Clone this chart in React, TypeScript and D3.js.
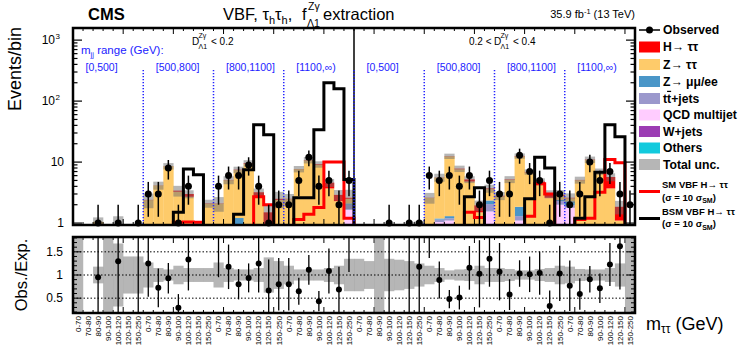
import React from "react";
import * as d3 from "d3";

// ---------------- data ----------------
const mttBins = ["0-70", "70-80", "80-90", "90-100", "100-120", "120-150", "150-250"];
const mjjRanges = ["[0,500]", "[500,800]", "[800,1100]", "[1100,\u221e)", "[0,500]", "[500,800]", "[800,1100]", "[1100,\u221e)"];

const observed = [
  0, 0, 1, 0, 1, 0, 1,
  3, 3, 8, 1, 4, 0, 0,
  4, 6, 6, 9, 4, 1, 2,
  2, 5, 12, 4, 5, 2, 5,
  0, 0, 0, 1, 0, 1, 1,
  6, 5, 6, 4, 6, 2, 5,
  3, 3, 13, 7, 5, 1, 3,
  2, 3, 10, 5, 7, 3, 2,
];

const others = [
  0.02, 0, 0.03, 0.02, 0.03, 0.03, 0.02,
  0.05, 0.05, 0.06, 0.05, 0.05, 0.04, 0.05,
  0.05, 0.05, 0.06, 0.06, 0.05, 0.04, 0.05,
  0.05, 0.05, 0.06, 0.06, 0.05, 0.05, 0.08,
  0.02, 0.02, 0.02, 0.02, 0.02, 0.02, 0.03,
  0.05, 0.06, 0.07, 0.06, 0.05, 0.05, 0.08,
  0.05, 0.06, 0.1, 0.06, 0.05, 0.05, 0.1,
  0.08, 0.05, 0.06, 0.05, 0.05, 0.05, 0.02,
];
const wjets = [
  0.03, 0, 0.04, 0.02, 0.04, 0.03, 0.02,
  0.05, 0.05, 0.07, 0.05, 0.05, 0.03, 0.05,
  0.05, 0.06, 0.05, 0.07, 0.05, 0.04, 0.05,
  0.05, 0.06, 0.07, 0.06, 0.05, 0.04, 0.07,
  0.02, 0.02, 0.02, 0.03, 0.02, 0.02, 0.03,
  0.05, 0.06, 0.08, 0.06, 0.05, 0.05, 0.07,
  0.05, 0.06, 0.05, 0.06, 0.05, 0.05, 0.1,
  0.1, 0.05, 0.06, 0.05, 0.05, 0.05, 0.02,
];
const qcd = [
  0.1, 0, 0.1, 0.08, 0.2, 0.15, 0.12,
  0.1, 0.1, 0.15, 0.12, 0.1, 0.2, 0.1,
  0.1, 0.15, 0.3, 0.2, 0.1, 0.1, 0.3,
  0.15, 0.15, 0.2, 0.2, 0.15, 0.15, 1.5,
  0.15, 0.12, 0.1, 0.12, 0.15, 0.12, 0.25,
  0.2, 0.92, 0.95, 0.3, 0.2, 0.25, 1.4,
  0.3, 0.2, 0.95, 0.2, 0.2, 0.15, 1.8,
  1.6, 0.2, 0.2, 0.2, 0.15, 0.15, 0.06,
];
const ttbar = [
  0.05, 0, 0.08, 0.05, 0.1, 0.1, 0.08,
  0.08, 0.1, 0.1, 0.1, 0.1, 0.05, 0.1,
  0.1, 0.1, 0.4, 0.15, 0.1, 0.08, 0.2,
  0.1, 0.1, 0.15, 0.15, 0.1, 0.1, 0.35,
  0.05, 0.05, 0.04, 0.05, 0.05, 0.05, 0.1,
  0.1, 0.1, 0.1, 0.1, 0.1, 0.1, 0.5,
  0.1, 0.1, 0.2, 0.1, 0.1, 0.1, 0.3,
  0.2, 0.1, 0.1, 0.1, 0.1, 0.1, 0.04,
];
const zll = [
  0.05, 0, 0.05, 0.03, 0.05, 0.05, 0.05,
  0.05, 0.05, 0.08, 0.05, 0.05, 0.05, 0.05,
  0.05, 0.05, 0.4, 0.1, 0.05, 0.05, 0.2,
  0.05, 0.1, 0.1, 0.1, 0.05, 0.05, 0.1,
  0.03, 0.03, 0.02, 0.03, 0.03, 0.03, 0.05,
  0.05, 0.05, 0.1, 0.1, 0.05, 0.1, 0.3,
  0.05, 0.1, 0.55, 0.1, 0.05, 0.05, 0.1,
  0.3, 0.05, 0.05, 0.05, 0.05, 0.05, 0.03,
];
const ztt = [
  0.25, 0, 0.75, 0.1, 0.35, 0.24, 0.16,
  2.05, 3.78, 8.1, 2.9, 2.35, 0.5, 1.72,
  1.73, 4.64, 6.2, 8.8, 2.25, 0.5, 1.6,
  2.07, 7.2, 10.1, 8.4, 3.3, 1.9, 0.4,
  0.23, 0.16, 0.1, 0.15, 0.23, 0.16, 0.37,
  2.13, 4.37, 11.1, 7.0, 4.35, 0.95, 1.25,
  2.2, 4.6, 10.6, 6.28, 3.75, 2.2, 0.4,
  0.27, 4.6, 10.4, 6.25, 3.3, 0.7, 0.13,
];
const htt = [
  0, 0, 0, 0, 0, 0, 0,
  0.02, 0.02, 0.04, 0.13, 0.3, 0.03, 0.03,
  0.02, 0.05, 0.09, 0.22, 0.6, 0.69, 0.1,
  0.03, 0.04, 0.12, 0.23, 0.9, 0.61, 0.1,
  0, 0, 0, 0, 0, 0, 0.02,
  0.02, 0.04, 0.1, 0.18, 0.4, 0.45, 0.1,
  0.05, 0.08, 0.15, 0.1, 0.6, 0.4, 0.1,
  0.05, 0.05, 0.13, 0.3, 2.0, 0.75, 0,
];
// relative total uncertainty
const totalUnc = [
  0.9, 0, 0.18, 0.9, 0.68, 0.4, 0.4,
  0.27, 0.15, 0.12, 0.2, 0.15, 0.15, 0.15,
  0.27, 0.15, 0.12, 0.12, 0.15, 0.38, 0.3,
  0.2, 0.12, 0.12, 0.12, 0.15, 0.2, 0.35,
  0.35, 0.3, 0.9, 0.35, 0.33, 0.3, 0.25,
  0.2, 0.15, 0.1, 0.12, 0.13, 0.2, 0.15,
  0.15, 0.13, 0.1, 0.1, 0.13, 0.15, 0.2,
  0.18, 0.13, 0.12, 0.12, 0.15, 0.25, 0.9,
];
const smVBF = [
  0, 0, 0, 0, 0, 0, 0,
  0, 0, 0, 1.03, 1.04, 1.03, 0.5,
  0, 0, 0.3, 0.9, 2.7, 2.0, 0.5,
  0, 1.15, 1.4, 1.8, 10, 10, 1.2,
  0, 0, 0, 0, 0, 0, 0,
  0, 0, 0, 0.9, 1.5, 1.24, 0.3,
  0, 0, 0.5, 1.3, 4.4, 3.0, 0.5,
  0, 1.15, 1.2, 3.2, 11, 9.8, 0.4,
];
const bsmVBF = [
  0, 0, 0, 0, 0, 0, 0,
  0, 0, 0, 1.5, 7.7, 6.2, 0.5,
  0, 0, 1.4, 7.5, 41, 28, 0.5,
  0.8, 2.6, 2.6, 34, 200, 160, 5.2,
  0, 0, 0, 0, 0, 0, 0,
  0, 0, 0, 0, 2.7, 3.8, 0.3,
  0, 0, 0.5, 2.5, 12, 8, 0.5,
  0, 1.2, 2.7, 6.8, 41, 26, 0.5,
];

const stackKeys = ["others", "wjets", "qcd", "ttbar", "zll", "ztt", "htt"];
const stackColors: Record<string, string> = {
  htt: "#ff0000",
  ztt: "#fecb6a",
  zll: "#4a96c8",
  ttbar: "#9b98cc",
  qcd: "#ffccff",
  wjets: "#9c3cb4",
  others: "#12cadd",
};
const legendLabels = ["Observed", "H\u2192 \u03c4\u03c4", "Z\u2192 \u03c4\u03c4", "Z\u2192 \u03bc\u03bc/ee", "tt+jets", "QCD multijet", "W+jets", "Others", "Total unc."];
const legendKeys = ["obs", "htt", "ztt", "zll", "ttbar", "qcd", "wjets", "others", "unc"];

const FONT = "'Liberation Sans', Arial, Helvetica, sans-serif";
const UNC_FILL = "#6e6e6e";
const BLUE = "#2222ff";

export default function App() {
  const W = 747, H = 357;
  const X0 = 73, X1 = 635, TOP = 28, BOT = 225, RTOP = 237, RBOT = 313;
  const NB = observed.length;

  const x = d3.scaleLinear().domain([0, NB]).range([X0, X1]);
  const y = d3.scaleLog().domain([0.93, 1580]).range([BOT, TOP]);
  const yc = (v: number) => y(Math.max(v, 0.3));
  const yr = d3.scaleLinear().domain([0.18, 1.82]).range([RBOT, RTOP]);

  const rows = d3.range(NB).map((i) => ({
    others: others[i], wjets: wjets[i], qcd: qcd[i], ttbar: ttbar[i], zll: zll[i], ztt: ztt[i], htt: htt[i],
  }));
  const stacked = d3.stack<any>().keys(stackKeys)(rows);
  const totals = rows.map((r: any) => d3.sum(stackKeys, (k) => r[k]));

  const stepLine = d3
    .line<number>()
    .x((_, i) => x(i))
    .y((v) => yc(v))
    .curve(d3.curveStepAfter);
  const smPath = stepLine([...smVBF, smVBF[NB - 1]]) || "";
  const bsmPath = stepLine([...bsmVBF, bsmVBF[NB - 1]]) || "";

  const logTicks = y.ticks();
  const isMajorLog = (v: number) => Math.abs(Math.log10(v) - Math.round(Math.log10(v))) < 1e-6;
  const rTicks = d3.range(2, 19).map((k) => k / 10);
  const groupEdges = d3.range(1, 8).map((g) => g * 7);
  const binEdges = d3.range(0, NB + 1);

  const cx = (i: number) => x(i + 0.5);

  const legendY = [30, 47, 64.5, 81.5, 98.5, 115, 131.5, 148, 164.5];

  return (
    <svg width={W} height={H} style={{ display: "block", fontFamily: FONT, position: "absolute", left: 0, top: 0 }}>
      <defs>
        <clipPath id="mainClip">
          <rect x={X0} y={TOP} width={X1 - X0} height={BOT - TOP} />
        </clipPath>
        <clipPath id="ratioClip">
          <rect x={X0} y={RTOP} width={X1 - X0} height={RBOT - RTOP} />
        </clipPath>
      </defs>
      <rect width={W} height={H} fill="#fff" />

      {/* ---------- main panel ---------- */}
      <g clipPath="url(#mainClip)">
        {stacked.map((s) => (
          <g key={s.key} fill={stackColors[s.key]}>
            {s.map((d, i) =>
              d[1] - d[0] > 0 ? (
                <rect key={i} x={x(i)} width={x(i + 1) - x(i) + 0.3} y={yc(d[1])} height={Math.max(0, yc(d[0]) - yc(d[1]))} />
              ) : null
            )}
          </g>
        ))}
        <g fill={UNC_FILL} fillOpacity={0.5}>
          {totals.map((t, i) =>
            t > 0 && totalUnc[i] > 0 ? (
              <rect key={i} x={x(i)} width={x(i + 1) - x(i) + 0.2} y={yc(t * (1 + totalUnc[i]))} height={Math.max(0, yc(t * (1 - totalUnc[i])) - yc(t * (1 + totalUnc[i])))} />
            ) : null
          )}
        </g>
        <path d={smPath} fill="none" stroke="#ff0000" strokeWidth={3} />
        <path d={bsmPath} fill="none" stroke="#000" strokeWidth={3} />
        {/* observed error bars */}
        {observed.map((o, i) =>
          o > 0 ? (
            <line key={i} x1={cx(i)} x2={cx(i)} y1={yc(o + Math.sqrt(o))} y2={yc(o - Math.sqrt(o))} stroke="#000" strokeWidth={1.5} />
          ) : null
        )}
      </g>
      {/* separators */}
      <line x1={x(28)} x2={x(28)} y1={TOP} y2={BOT} stroke="#000" strokeWidth={1.5} />
      {groupEdges.map((g) => (
        <line key={g} x1={x(g)} x2={x(g)} y1={70} y2={BOT} stroke={BLUE} strokeWidth={1.5} strokeDasharray="1.2,1.8" />
      ))}
      {observed.map((o, i) => (o > 0 ? <circle key={i} cx={cx(i)} cy={yc(o)} r={3.5} fill="#000" /> : null))}

      {/* main frame & ticks */}
      <rect x={X0} y={TOP} width={X1 - X0} height={BOT - TOP} fill="none" stroke="#000" strokeWidth={2.5} />
      {logTicks.map((v, i) => {
        const len = isMajorLog(v) ? 9 : 4.5;
        return (
          <g key={i} stroke="#000" strokeWidth={1.2}>
            <line x1={X0} x2={X0 + len} y1={y(v)} y2={y(v)} />
            <line x1={X1} x2={X1 - len} y1={y(v)} y2={y(v)} />
          </g>
        );
      })}
      {binEdges.map((b) => {
        const len = b % 5 === 0 ? 6 : 3;
        return (
          <g key={b} stroke="#000" strokeWidth={1}>
            <line x1={x(b)} x2={x(b)} y1={TOP} y2={TOP + len} />
            <line x1={x(b)} x2={x(b)} y1={BOT} y2={BOT - len} />
            <line x1={x(b)} x2={x(b)} y1={RTOP} y2={RTOP + len} />
            <line x1={x(b)} x2={x(b)} y1={RBOT} y2={RBOT - len} />
          </g>
        );
      })}
      {/* y tick labels */}
      <g fontSize={12} fill="#000">
        <text x={64} y={y(1) + 4.3} textAnchor="end">1</text>
        <text x={64} y={y(10) + 4.3} textAnchor="end">10</text>
        <text x={55} y={y(100) + 4.3} textAnchor="end">10</text>
        <text x={55.5} y={y(100) - 1.5} fontSize={8}>2</text>
        <text x={55} y={y(1000) + 4.3} textAnchor="end">10</text>
        <text x={55.5} y={y(1000) - 1.5} fontSize={8}>3</text>
      </g>
      <text transform={`translate(21,${TOP - 1}) rotate(-90)`} textAnchor="end" fontSize={18}>Events/bin</text>

      {/* in-plot labels */}
      <g fill={BLUE}>
        <text x={81} y={54} fontSize={11.5}>
          m<tspan fontSize={7.5} dy={2.5}>jj</tspan>
          <tspan dy={-2.5}> range (GeV):</tspan>
        </text>
        {mjjRanges.map((r, g) => (
          <text key={g} x={x(g * 7) + 12.5} y={70.5} fontSize={10.5}>{r}</text>
        ))}
      </g>
      <g fontSize={10} fill="#000">
        <text x={192} y={45}>D</text>
        <text x={198.5} y={38} fontSize={7}>Z&#947;</text>
        <text x={198.5} y={49} fontSize={7}>&#923;1</text>
        <text x={211} y={45}>&lt; 0.2</text>
        <text x={469} y={45}>0.2 &lt;</text>
        <text x={494} y={45}>D</text>
        <text x={500.5} y={38} fontSize={7}>Z&#947;</text>
        <text x={500.5} y={49} fontSize={7}>&#923;1</text>
        <text x={513} y={45}>&lt; 0.4</text>
      </g>

      {/* titles */}
      <text x={88} y={20} fontSize={16.5} fontWeight="bold">CMS</text>
      <text x={223} y={20} fontSize={16.5}>
        VBF, &#964;<tspan fontSize={11} dy={4}>h</tspan>
        <tspan dy={-4}>&#964;</tspan>
        <tspan fontSize={11} dy={4}>h</tspan>
        <tspan dy={-4}>,</tspan>
      </text>
      <text x={302} y={20} fontSize={16.5}>f</text>
      <text x={308} y={10} fontSize={10.5}>Z&#947;</text>
      <text x={307} y={27} fontSize={10.5}>&#923;1</text>
      <text x={323} y={20} fontSize={16.5}>extraction</text>
      <text x={635} y={18} fontSize={11} textAnchor="end">
        35.9 fb<tspan fontSize={7.5} dy={-4}>-1</tspan>
        <tspan dy={4}> (13 TeV)</tspan>
      </text>

      {/* legend */}
      <g fontSize={12.2} fontWeight="bold">
        {legendKeys.map((k, i) => {
          const cy = legendY[i];
          return (
            <g key={k}>
              {k === "obs" ? (
                <g>
                  <line x1={639} x2={660} y1={cy} y2={cy} stroke="#000" strokeWidth={1.5} />
                  <circle cx={649.5} cy={cy} r={3.5} fill="#000" />
                </g>
              ) : k === "unc" ? (
                <rect x={639} y={cy - 5.5} width={21} height={11} fill={UNC_FILL} fillOpacity={0.5} />
              ) : (
                <rect x={639} y={cy - 5.5} width={21} height={11} fill={stackColors[k]} />
              )}
              {k === "ttbar" ? (
                <text x={663} y={cy + 4.3}>
                  t<tspan textDecoration="overline">t</tspan>+jets
                </text>
              ) : (
                <text x={663} y={cy + 4.3}>{legendLabels[i]}</text>
              )}
            </g>
          );
        })}
        <line x1={639} x2={660} y1={191.5} y2={191.5} stroke="#ff0000" strokeWidth={3} />
        <text x={662} y={188} fontSize={9.5}>SM VBF H&#8594; &#964;&#964;</text>
        <text x={662} y={200.5} fontSize={9.5}>
          (&#963; = 10 &#963;<tspan fontSize={7} dy={2.5}>SM</tspan>
          <tspan dy={-2.5}>)</tspan>
        </text>
        <line x1={639} x2={660} y1={218.5} y2={218.5} stroke="#000" strokeWidth={3} />
        <text x={662} y={215} fontSize={9.5}>BSM VBF H&#8594; &#964;&#964;</text>
        <text x={662} y={227} fontSize={9.5}>
          (&#963; = 10 &#963;<tspan fontSize={7} dy={2.5}>SM</tspan>
          <tspan dy={-2.5}>)</tspan>
        </text>
      </g>

      {/* ---------- ratio panel ---------- */}
      <g clipPath="url(#ratioClip)">
        <g fill={UNC_FILL} fillOpacity={0.5}>
          {totals.map((t, i) =>
            t > 0 && totalUnc[i] > 0 ? (
              <rect key={i} x={x(i)} width={x(i + 1) - x(i) + 0.2} y={yr(1 + totalUnc[i])} height={yr(1 - totalUnc[i]) - yr(1 + totalUnc[i])} />
            ) : null
          )}
        </g>
        {[0.5, 1, 1.5].map((v) => (
          <line key={v} x1={X0} x2={X1} y1={yr(v)} y2={yr(v)} stroke="#000" strokeWidth={1} strokeDasharray="1.5,2" />
        ))}
        {observed.map((o, i) => {
          if (o <= 0 || totals[i] <= 0) return null;
          const r = o / totals[i];
          const e = Math.sqrt(o) / totals[i];
          return (
            <g key={i}>
              <line x1={cx(i)} x2={cx(i)} y1={yr(Math.min(r + e, 3))} y2={yr(Math.max(r - e, -1))} stroke="#000" strokeWidth={1.3} />
              <circle cx={cx(i)} cy={yr(r)} r={3} fill="#000" />
            </g>
          );
        })}
      </g>
      <rect x={X0} y={RTOP} width={X1 - X0} height={RBOT - RTOP} fill="none" stroke="#000" strokeWidth={2.5} />
      {rTicks.map((v, i) => {
        const major = Math.abs(v * 2 - Math.round(v * 2)) < 1e-6;
        const len = major ? 8 : 4;
        return (
          <g key={i} stroke="#000" strokeWidth={1}>
            <line x1={X0} x2={X0 + len} y1={yr(v)} y2={yr(v)} />
            <line x1={X1} x2={X1 - len} y1={yr(v)} y2={yr(v)} />
          </g>
        );
      })}
      <g fontSize={12} textAnchor="end">
        {[0.5, 1, 1.5].map((v) => (
          <text key={v} x={63} y={yr(v) + 4.3}>{String(v)}</text>
        ))}
      </g>
      <text transform={`translate(27,${(RTOP + RBOT) / 2}) rotate(-90)`} textAnchor="middle" fontSize={16.5}>Obs./Exp.</text>

      {/* x tick labels */}
      <g fontSize={8}>
        {d3.range(NB).map((i) => (
          <text key={i} transform={`translate(${cx(i) + 2.8},316) rotate(-90)`} textAnchor="end">
            {mttBins[i % 7]}
          </text>
        ))}
      </g>
      <text x={646} y={330} fontSize={18}>
        m<tspan fontSize={12} dy={3}>&#964;&#964;</tspan>
        <tspan dy={-3}> (GeV)</tspan>
      </text>
    </svg>
  );
}
